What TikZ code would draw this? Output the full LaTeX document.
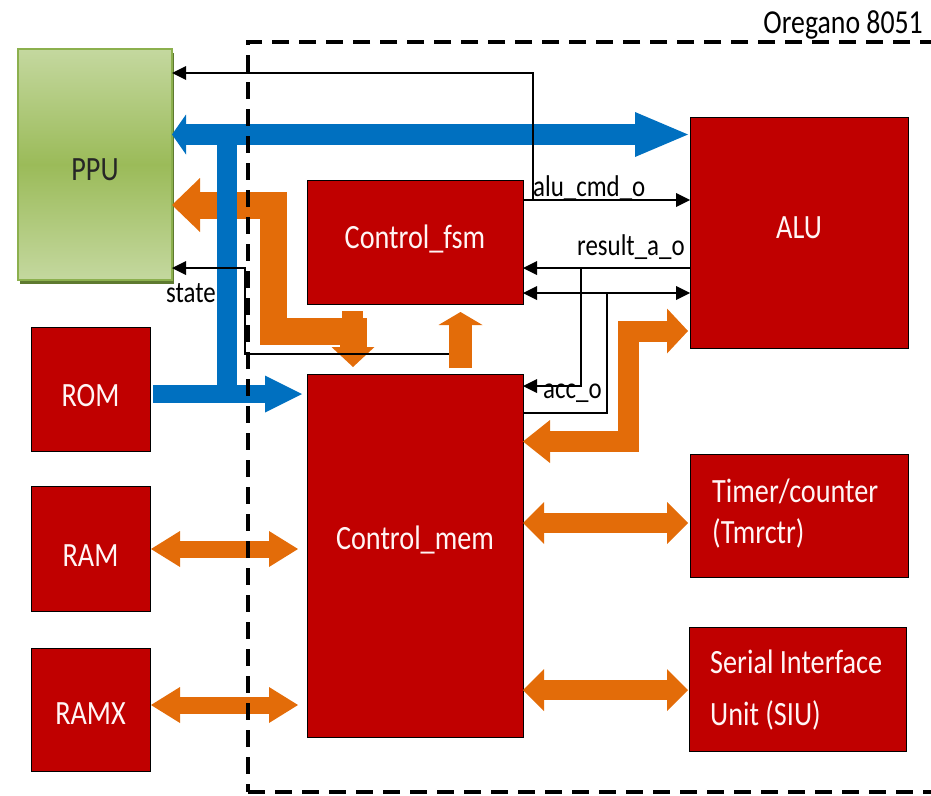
\documentclass[tikz,border=0pt]{standalone}
\usepackage{fontspec}
\setmainfont{Carlito}[FakeStretch=0.83]
\usetikzlibrary{arrows.meta}

\definecolor{boxred}{HTML}{C00000}
\definecolor{busblue}{HTML}{0070C0}
\definecolor{busorange}{HTML}{E36C09}
\definecolor{ppulight}{HTML}{C4D89F}
\definecolor{ppumid}{HTML}{9BBB59}
\definecolor{ppuedge}{HTML}{8CB04E}
\definecolor{ppushadow}{HTML}{5E7A30}

\begin{document}
\begin{tikzpicture}[x=1pt,y=-1pt,
  unit/.style={draw=black, line width=1pt, fill=boxred,
    inner sep=0pt, outer sep=0pt, anchor=north west},
  caption/.style={inner sep=0pt, text=white!96!red, font=\fontsize{34}{40}\selectfont},
  sig/.style={draw=black, line width=1.6pt},
  siglbl/.style={anchor=base west, inner sep=0pt, font=\fontsize{30}{34}\selectfont},
  obus/.style={draw=busorange, line join=miter, line cap=butt},
  bbus/.style={draw=busblue, line join=miter, line cap=butt},
  frame/.style={draw=black, dash pattern=on 17pt off 10pt, line width=4pt,
    inner sep=0pt, outer sep=0pt, anchor=north west},
  stip/.tip={Triangle[length=14pt,width=14pt,line width=0pt]}
]
\useasboundingbox (0,0) rectangle (931,795);

% ---------- blocks ----------
\fill[ppushadow] (19.5,53) rectangle (173.5,284);
\node[draw=ppuedge, line width=1.5pt, top color=ppulight, bottom color=ppulight,
  middle color=ppumid, anchor=north west, inner sep=0pt, outer sep=0pt,
  minimum width=154pt, minimum height=231pt] (ppu) at (18,49) {};
\node[caption, text=black!85] at ([yshift=-5pt]ppu.center) {PPU};

\node[unit, minimum width=119pt, minimum height=124pt] (rom)  at (31,327) {};
\node[unit, minimum width=119pt, minimum height=125pt] (ram)  at (31,486) {};
\node[unit, minimum width=119pt, minimum height=123pt] (ramx) at (31,648) {};
\node[unit, minimum width=216pt, minimum height=124pt] (fsm)  at (307,180) {};
\node[unit, minimum width=216pt, minimum height=363pt] (mem)  at (307,374) {};
\node[unit, minimum width=218pt, minimum height=231pt] (alu)  at (690,117) {};
\node[unit, minimum width=218pt, minimum height=123pt] (tmr)  at (690,454) {};
\node[unit, minimum width=217pt, minimum height=124pt] (siu)  at (689,627) {};

\node[caption] at ([yshift=-7pt]rom.center)  {ROM};
\node[caption] at ([yshift=-7pt]ram.center)  {RAM};
\node[caption] at ([yshift=-4pt]ramx.center) {RAMX};
\node[caption] at ([yshift=3pt]fsm.center)   {Control\_fsm};
\node[caption] at ([yshift=16pt]mem.center)  {Control\_mem};
\node[caption] at ([yshift=5pt]alu.center)   {ALU};
\node[caption, anchor=base west] at (712,502) {Timer/counter};
\node[caption, anchor=base west] at (712,543) {(Tmrctr)};
\node[caption, anchor=base west] at (710,673) {Serial Interface};
\node[caption, anchor=base west] at (710,725) {Unit (SIU)};

% ---------- orange data paths ----------
\draw[obus, line width=27pt,
  {Triangle[length=28pt,width=54pt,line width=0pt]}-{Triangle[length=20pt,width=43pt,line width=0pt]},
  shorten >=7pt]
  (ppu.east |- 0,205) -| (273.5,331.5) -| (353,0 |- mem.north);
\fill[busorange] (342,311) rectangle (363,320);

\draw[obus, line width=21pt,
  {Triangle[length=27pt,width=43pt,line width=0pt]}-{Triangle[length=21pt,width=45pt,line width=0pt]},
  shorten >=2pt]
  (mem.east |- 0,441.5) -| (628.5,331) -- (alu.west |- 0,331);

\draw[obus, line width=20pt,
  {Triangle[length=21pt,width=42pt,line width=0pt]}-{Triangle[length=21pt,width=42pt,line width=0pt]},
  shorten >=2pt]
  (mem.east |- 0,523) -- (tmr.west |- 0,523);
\draw[obus, line width=20pt,
  {Triangle[length=21pt,width=42pt,line width=0pt]}-{Triangle[length=21pt,width=42pt,line width=0pt]},
  shorten >=1pt]
  (mem.east |- 0,690) -- (siu.west |- 0,690);
\draw[obus, line width=17pt,
  {Triangle[length=29pt,width=36pt,line width=0pt]}-{Triangle[length=29pt,width=36pt,line width=0pt]},
  shorten <=1pt, shorten >=9pt]
  (ram.east |- 0,549) -- (mem.west |- 0,549);
\draw[obus, line width=17pt,
  {Triangle[length=29pt,width=36pt,line width=0pt]}-{Triangle[length=29pt,width=36pt,line width=0pt]},
  shorten <=1pt, shorten >=9pt]
  (ramx.east |- 0,705) -- (mem.west |- 0,705);

% ---------- blue bus ----------
\coordinate (btop) at (227,124);
\coordinate (bbot) at (227,403);
\draw[bbus, line width=21pt,
  {Triangle[length=14pt,width=40pt,line width=0pt]}-{Triangle[length=53pt,width=45pt,line width=0pt]},
  shorten >=2pt]
  (ppu.east |- 0,134.5) -- (alu.west |- 0,134.5);
\draw[bbus, line width=20pt] (btop) -- (bbot);
\draw[bbus, line width=18pt, -{Triangle[length=37pt,width=37pt,line width=0pt]},
  shorten <=3pt, shorten >=5pt]
  (rom.east |- 0,394) -- (mem.west |- 0,394);

% ---------- control signals ----------
\coordinate (cmdtap) at (533,200);
\coordinate (restap) at (581,268);
\coordinate (acctap) at (607,293);
\coordinate (statesrc) at (462,354);

\draw[sig, -stip] (fsm.east |- cmdtap) -- (alu.west |- cmdtap);
\draw[sig, -stip] (cmdtap) |- (ppu.east |- 0,73);
\node[siglbl] at (533,196) {alu\_cmd\_o};

\draw[sig, -stip] (alu.west |- restap) -- (fsm.east |- restap);
\draw[sig, -stip] (restap) |- (mem.east |- 0,386);
\node[siglbl] at (577,255) {result\_a\_o};

\draw[sig, stip-stip] (fsm.east |- acctap) -- (alu.west |- acctap);
\draw[sig] (acctap) |- (mem.east |- 0,413);
\node[siglbl] at (543,398) {acc\_o};

\draw[sig, -stip] (statesrc) -| (245,268) -- (ppu.east |- 0,268);
\node[siglbl] at (166,302) {state};

% orange return path into Control_fsm (drawn over the state line)
\draw[obus, line width=23pt, -{Triangle[length=13pt,width=44pt,line width=0pt]},
  shorten <=6pt, shorten >=8pt]
  (460.5,0 |- mem.north) -- (460.5,0 |- fsm.south);

% ---------- core boundary ----------
\node[frame, minimum width=685pt, minimum height=750pt] (core) at (248,42) {};
\node[anchor=base east, inner sep=0pt, font=\fontsize{33.5}{38}\selectfont]
  at (923,33) {Oregano 8051};
\end{tikzpicture}
\end{document}
